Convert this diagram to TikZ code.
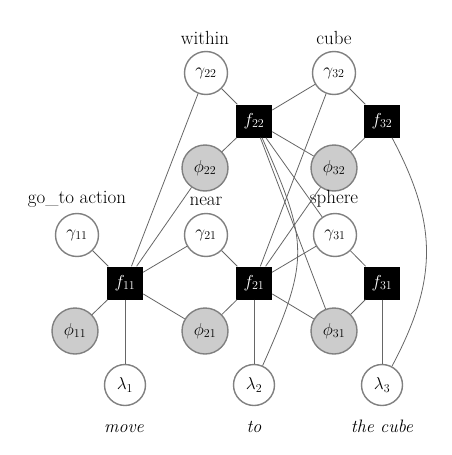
\documentclass[tikz,border=0pt]{standalone}
\usepackage{fontspec}
\usepackage{amsmath}
\usepackage{amssymb}
\begin{document}
\begin{tikzpicture}[x=1pt,y=1pt]
    \tikzset{
    var/.style={circle,minimum size=43pt,inner sep=0pt,draw=gray,line width=1.4pt,fill=white,font=\fontsize{17}{20}\selectfont},
    obs/.style={var,minimum size=46pt,fill=gray!40},
    lam/.style={var,minimum size=41pt},
    fac/.style={rectangle,minimum width=36pt,minimum height=33pt,inner sep=0pt,fill=black,text=white,font=\fontsize{17}{20}\selectfont},
    lbl/.style={anchor=base,inner sep=0pt,font=\fontsize{19}{22}\selectfont},
    wrd/.style={lbl,font=\fontsize{18}{21}\selectfont\itshape},
    conn/.style={-, gray!80!black, line width=0.8pt},
    }
    \useasboundingbox (0,0) rectangle (452,-455);

    \node[var] (g22) at (206,-73) {$\gamma_{22}$};
    \node[var] (g32) at (334,-73) {$\gamma_{32}$};
    \node[fac] (f22) at (254,-121) {$f_{22}$};
    \node[fac] (f32) at (382,-121) {$f_{32}$};
    \node[obs] (p22) at (205,-168) {$\phi_{22}$};
    \node[obs] (p32) at (334,-168) {$\phi_{32}$};

    \node[var] (g11) at (77,-235) {$\gamma_{11}$};
    \node[var] (g21) at (206,-235) {$\gamma_{21}$};
    \node[var] (g31) at (335,-235) {$\gamma_{31}$};
    \node[fac] (f11) at (125,-283) {$f_{11}$};
    \node[fac] (f21) at (254,-283) {$f_{21}$};
    \node[fac] (f31) at (382,-283) {$f_{31}$};
    \node[obs] (p11) at (75,-331) {$\phi_{11}$};
    \node[obs] (p21) at (205,-331) {$\phi_{21}$};
    \node[obs] (p31) at (334,-331) {$\phi_{31}$};

    \node[lam] (l1) at (125,-385) {$\lambda_1$};
    \node[lam] (l2) at (254,-385) {$\lambda_2$};
    \node[lam] (l3) at (382,-385) {$\lambda_3$};

    % phrase labels
    \node[lbl] (within) at (205,-44) {within};
    \node[lbl] (cube) at (334,-44) {cube};
    \node[lbl] (goto) at (77,-203) {go\_to action};
    \node[lbl] (near) at (206,-205) {near};
    \node[lbl] (sphere) at (334,-203) {sphere};
    \node[wrd] (w1) at (124,-432) {move};
    \node[wrd] (w2) at (254,-432) {to};
    \node[wrd] (w3) at (382,-432) {the cube};

    \draw[conn] (f11) edge (g11);
    \draw[conn] (f11) edge (p11);
    \draw[conn] (f11) edge (l1);
    \draw[conn] (f11) edge (g21);
    \draw[conn] (f11) edge (p21);
    \draw[conn] (f11) edge (g22);
    \draw[conn] (f11) edge (p22);

    \draw[conn] (f21) edge (g21);
    \draw[conn] (f21) edge (p21);
    \draw[conn] (f21) edge (l2);
    \draw[conn] (f21) edge (g31);
    \draw[conn] (f21) edge (p31);
    \draw[conn] (f21) edge (g32);
    \draw[conn] (f21) edge (p32);

    \draw[conn] (f22) edge (g22);
    \draw[conn] (f22) edge (p22);
    \draw[conn] ([xshift=8pt]f22.south) edge[out=-66,in=66,looseness=1.3] (l2);
    \draw[conn] (f22) edge (g31);
    \draw[conn] (f22) edge (p31);
    \draw[conn] (f22) edge (g32);
    \draw[conn] (f22) edge (p32);

    \draw[conn] (f31) edge (g31);
    \draw[conn] (f31) edge (p31);
    \draw[conn] (f31) edge (l3);

    \draw[conn] (f32) edge (g32);
    \draw[conn] (f32) edge (p32);
    \draw[conn] ([xshift=10pt]f32.south) edge[out=-62,in=62,looseness=1.1] (l3);

\end{tikzpicture}
\end{document}
